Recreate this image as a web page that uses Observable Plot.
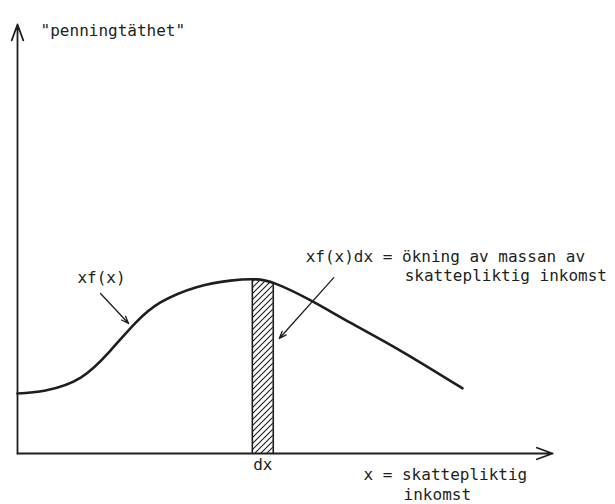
<!DOCTYPE html>
<html>
<head>
<meta charset="utf-8">
<script src="https://cdn.jsdelivr.net/npm/d3@7"></script>
<script src="https://cdn.jsdelivr.net/npm/@observablehq/plot@0.6"></script>
<style>
  html, body { margin: 0; padding: 0; background: #fff; }
  #chart svg { display: block; }
</style>
</head>
<body>
<div id="chart"></div>
<script>
// Curve xf(x): income (x) vs "money density" (y), abstract units
const curveX = [0, 5.1, 11.5, 16.9, 21.5, 26.0, 32.4, 38.7, 43.3, 46.9, 53.3, 60.5, 69.6, 80.9];
const curveY = [14.0, 14.7, 17.7, 24.0, 30.5, 35.2, 38.7, 40.3, 40.6, 39.6, 35.7, 30.5, 24.0, 15.2];

// hatched strip dx
const stripX = [42.7, 46.5];
const stripTop = [40.5, 39.8];

// axis extents
const axisXEnd = 97.3;
const axisYEnd = 100;

// annotation arrows [x1, y1, x2, y2]
const arrowFx = [15.1, 37.3, 20.2, 30.3];
const arrowDx = [57.5, 41.0, 47.6, 26.8];

// labels
const labels = [
  {text: "\"penningtäthet\"", x: 4.2, y: 98.6},
  {text: "xf(x)", x: 10.9, y: 41.0},
  {text: "xf(x)dx = ökning av massan av", x: 52.4, y: 45.8},
  {text: "skattepliktig inkomst", x: 70.4, y: 41.3},
  {text: "x = skattepliktig", x: 62.9, y: -4.9},
  {text: "inkomst", x: 70.2, y: -9.6}
];
const dxLabel = {text: "dx", x: 44.6, y: -2.7};

const curve = curveX.map((x, i) => ({x, y: curveY[i]}));
const strip = stripX.map((x, i) => ({x, y: stripTop[i]}));

const ink = "#1e1e1e";
const font = "DejaVu Sans Mono";

const svg = Plot.plot({
  width: 615,
  height: 504,
  marginLeft: 17,
  marginRight: 48,
  marginTop: 24,
  marginBottom: 51,
  x: {domain: [0, 100], axis: null},
  y: {domain: [0, 100], axis: null},
  style: {background: "#fff", fontFamily: font},
  marks: [
    Plot.areaY(strip, {x: "x", y: "y", fill: "url(#hatch)"}),
    Plot.ruleX(strip, {x: "x", y1: 0, y2: "y", stroke: ink, strokeWidth: 1.6}),
    Plot.line(curve, {x: "x", y: "y", curve: "natural", stroke: ink, strokeWidth: 2.6}),
    Plot.arrow([0], {x1: 0, y1: 0, x2: 0, y2: axisYEnd, stroke: ink, strokeWidth: 1.8, headLength: 14, headAngle: 40}),
    Plot.arrow([0], {x1: 0, y1: 0, x2: axisXEnd, y2: 0, stroke: ink, strokeWidth: 1.8, headLength: 14, headAngle: 40}),
    Plot.arrow([arrowFx], {x1: d => d[0], y1: d => d[1], x2: d => d[2], y2: d => d[3], stroke: ink, strokeWidth: 1.3, headLength: 9, headAngle: 40}),
    Plot.arrow([arrowDx], {x1: d => d[0], y1: d => d[1], x2: d => d[2], y2: d => d[3], stroke: ink, strokeWidth: 1.3, headLength: 9, headAngle: 40}),
    Plot.text(labels, {x: "x", y: "y", text: "text", textAnchor: "start", fontSize: 16, fill: ink, fontFamily: font}),
    Plot.text([dxLabel], {x: "x", y: "y", text: "text", textAnchor: "middle", fontSize: 16, fill: ink, fontFamily: font})
  ]
});

const defs = d3.select(svg).insert("defs", ":first-child");
const pat = defs.append("pattern")
  .attr("id", "hatch")
  .attr("patternUnits", "userSpaceOnUse")
  .attr("width", 6)
  .attr("height", 6);
pat.append("rect").attr("width", 6).attr("height", 6).attr("fill", "#fff");
pat.append("path")
  .attr("d", "M-1,1 L1,-1 M0,6 L6,0 M5,7 L7,5")
  .attr("stroke", ink)
  .attr("stroke-width", 1.1);

document.getElementById("chart").appendChild(svg);
</script>
</body>
</html>
